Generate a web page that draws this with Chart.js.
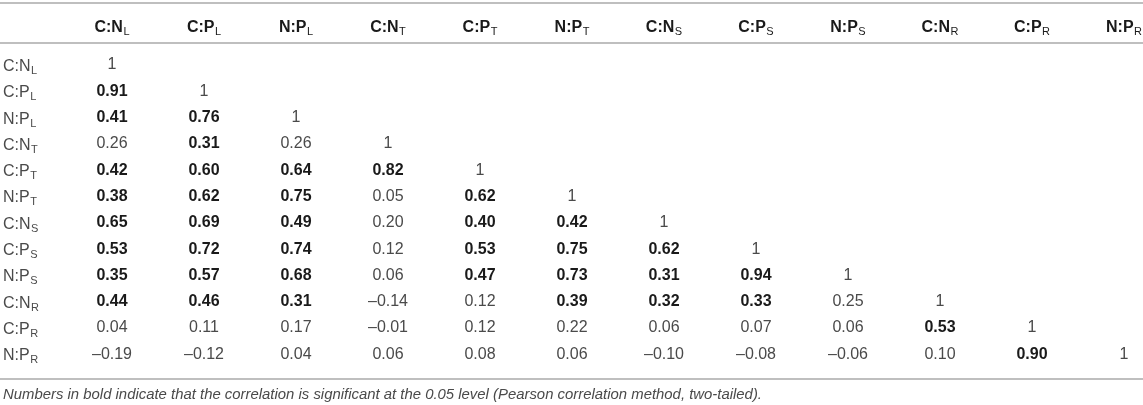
<!DOCTYPE html>
<html>
<head>
<meta charset="utf-8">
<script src="https://cdn.jsdelivr.net/npm/chart.js@4.4.0/dist/chart.umd.min.js"></script>
<style>
html,body{margin:0;padding:0;background:#fff;}
#wrap{width:1143px;height:405px;}
</style>
</head>
<body>
<div id="wrap"><canvas id="c" width="1143" height="405"></canvas></div>
<script>
// ---- data ----
const ratioBase = ["C:N","C:P","N:P","C:N","C:P","N:P","C:N","C:P","N:P","C:N","C:P","N:P"];
const ratioSub  = ["L","L","L","T","T","T","S","S","S","R","R","R"];

const r01 = [1];
const r02 = [0.91, 1];
const r03 = [0.41, 0.76, 1];
const r04 = [0.26, 0.31, 0.26, 1];
const r05 = [0.42, 0.60, 0.64, 0.82, 1];
const r06 = [0.38, 0.62, 0.75, 0.05, 0.62, 1];
const r07 = [0.65, 0.69, 0.49, 0.20, 0.40, 0.42, 1];
const r08 = [0.53, 0.72, 0.74, 0.12, 0.53, 0.75, 0.62, 1];
const r09 = [0.35, 0.57, 0.68, 0.06, 0.47, 0.73, 0.31, 0.94, 1];
const r10 = [0.44, 0.46, 0.31, -0.14, 0.12, 0.39, 0.32, 0.33, 0.25, 1];
const r11 = [0.04, 0.11, 0.17, -0.01, 0.12, 0.22, 0.06, 0.07, 0.06, 0.53, 1];
const r12 = [-0.19, -0.12, 0.04, 0.06, 0.08, 0.06, -0.10, -0.08, -0.06, 0.10, 0.90, 1];

// 1 = significant (bold)
const b01 = [0];
const b02 = [1, 0];
const b03 = [1, 1, 0];
const b04 = [0, 1, 0, 0];
const b05 = [1, 1, 1, 1, 0];
const b06 = [1, 1, 1, 0, 1, 0];
const b07 = [1, 1, 1, 0, 1, 1, 0];
const b08 = [1, 1, 1, 0, 1, 1, 1, 0];
const b09 = [1, 1, 1, 0, 1, 1, 1, 1, 0];
const b10 = [1, 1, 1, 0, 0, 1, 1, 1, 0, 0];
const b11 = [0, 0, 0, 0, 0, 0, 0, 0, 0, 1, 0];
const b12 = [0, 0, 0, 0, 0, 0, 0, 0, 0, 0, 1, 0];

const footnote = "Numbers in bold indicate that the correlation is significant at the 0.05 level (Pearson correlation method, two-tailed).";

const valueRows = [r01,r02,r03,r04,r05,r06,r07,r08,r09,r10,r11,r12];
const boldRows  = [b01,b02,b03,b04,b05,b06,b07,b08,b09,b10,b11,b12];

// ---- build points ----
const points = [];
valueRows.forEach((row, ri) => {
  row.forEach((v, ci) => {
    points.push({x: ci + 1, y: ri + 1, v: v, b: boldRows[ri][ci]});
  });
});

function fmt(v){
  if (v === 1) return "1";
  const s = Math.abs(v).toFixed(2);
  return v < 0 ? "\u2013" + s : s;
}

const FAM = "'Liberation Sans', Arial, Helvetica, sans-serif";
const BASE_SIZE = 16, SUB_SIZE = 11;
const NORMAL_COLOR = "#4a4a4a", BOLD_COLOR = "#1a1a1a";

function drawSub(ctx, base, sub, x, y, align, weight, color){
  ctx.fillStyle = color;
  ctx.textBaseline = "alphabetic";
  ctx.textAlign = "left";
  ctx.font = weight + " " + BASE_SIZE + "px " + FAM;
  const wb = ctx.measureText(base).width;
  ctx.font = "normal " + SUB_SIZE + "px " + FAM;
  const ws = ctx.measureText(sub).width;
  const total = wb + ws + 0.5;
  let x0 = x;
  if (align === "center") x0 = x - total / 2;
  const baseY = y + 6;
  ctx.font = weight + " " + BASE_SIZE + "px " + FAM;
  ctx.fillText(base, x0, baseY);
  ctx.font = "normal " + SUB_SIZE + "px " + FAM;
  ctx.fillText(sub, x0 + wb + 0.5, baseY + 3);
}

const tablePlugin = {
  id: "tablePlugin",
  afterDatasetsDraw(chart){
    const ctx = chart.ctx;
    const xs = chart.scales.x, ys = chart.scales.y;
    ctx.save();
    // rules
    ctx.strokeStyle = "#bfbfbf";
    ctx.lineWidth = 2;
    [-1.357, 0.1635, 12.939].forEach(v => {
      const py = Math.round(ys.getPixelForValue(v));
      ctx.beginPath();
      ctx.moveTo(xs.left, py);
      ctx.lineTo(xs.right, py);
      ctx.stroke();
    });
    // header
    const hy = ys.getPixelForValue(-0.483);
    ratioBase.forEach((b, i) => {
      drawSub(ctx, b, ratioSub[i], xs.getPixelForValue(i + 1), hy, "center", "bold", BOLD_COLOR);
    });
    // row labels
    ratioBase.forEach((b, i) => {
      drawSub(ctx, b, ratioSub[i], 3, ys.getPixelForValue(i + 1), "left", "normal", NORMAL_COLOR);
    });
    // cells
    const meta = chart.getDatasetMeta(0);
    meta.data.forEach((el, i) => {
      const p = points[i];
      ctx.font = (p.b ? "bold " : "normal ") + BASE_SIZE + "px " + FAM;
      ctx.fillStyle = p.b ? BOLD_COLOR : NORMAL_COLOR;
      ctx.textAlign = "center";
      ctx.textBaseline = "middle";
      ctx.fillText(fmt(p.v), el.x, el.y);
    });
    // footnote
    ctx.font = "italic 14.9px " + FAM;
    ctx.fillStyle = NORMAL_COLOR;
    ctx.textAlign = "left";
    ctx.textBaseline = "middle";
    ctx.fillText(footnote, 3, ys.getPixelForValue(13.548));
    ctx.restore();
  }
};

new Chart(document.getElementById("c"), {
  type: "scatter",
  data: {
    datasets: [{
      data: points,
      pointRadius: 0,
      pointHoverRadius: 0,
      showLine: false
    }]
  },
  options: {
    responsive: false,
    animation: false,
    devicePixelRatio: 1,
    layout: {padding: 0},
    events: [],
    plugins: {legend: {display: false}, tooltip: {enabled: false}},
    scales: {
      x: {type: "linear", display: false, min: -0.2174, max: 12.2065},
      y: {type: "linear", display: false, reverse: true, min: -1.4715, max: 13.928}
    }
  },
  plugins: [tablePlugin]
});
</script>
</body>
</html>
